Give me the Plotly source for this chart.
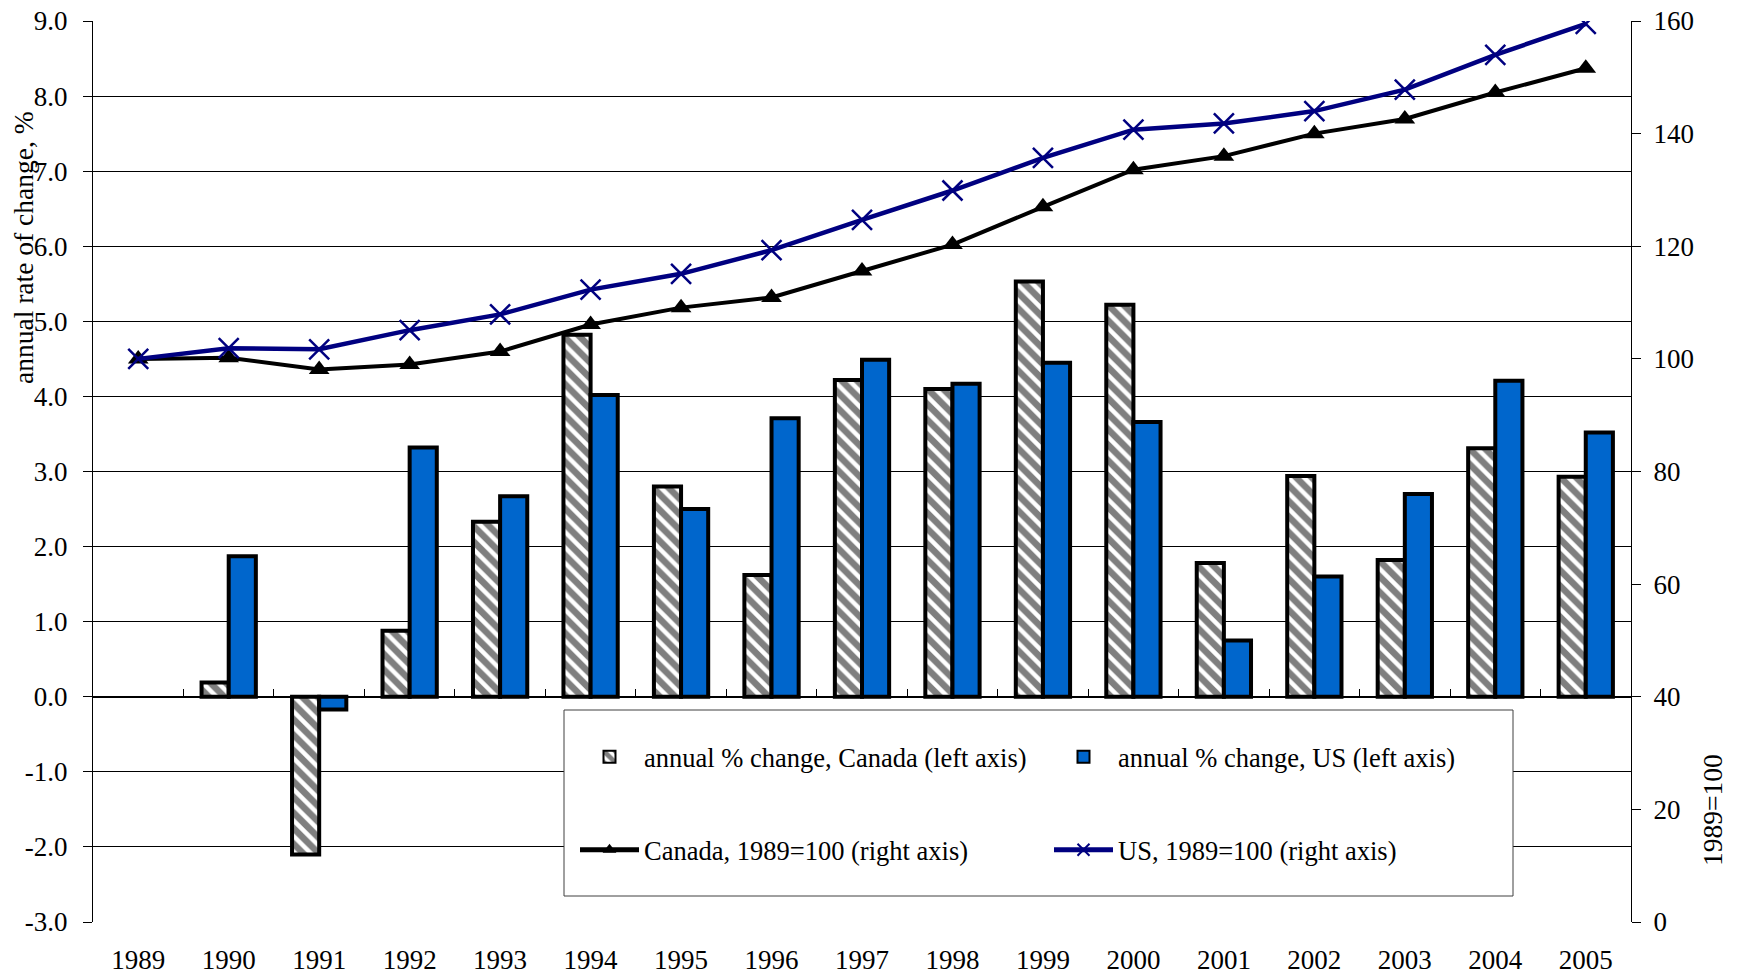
import plotly.graph_objects as go

years = [str(y) for y in range(1989, 2006)]
canada_pct = [None, 0.19, -2.10, 0.88, 2.33, 4.82, 2.80, 1.62, 4.22, 4.10, 5.53, 5.22, 1.78, 2.94, 1.82, 3.31, 2.93]
us_pct = [None, 1.87, -0.17, 3.32, 2.67, 4.02, 2.50, 3.71, 4.49, 4.17, 4.45, 3.66, 0.75, 1.60, 2.70, 4.21, 3.52]
canada_idx = [100.0, 100.2, 98.1, 99.0, 101.3, 106.1, 109.1, 110.9, 115.6, 120.3, 127.0, 133.6, 136.0, 140.0, 142.6, 147.3, 151.6]
us_idx = [100.0, 101.9, 101.7, 105.1, 107.9, 112.3, 115.1, 119.3, 124.7, 129.9, 135.7, 140.7, 141.8, 144.0, 147.8, 154.0, 159.5]
left_ticks = [-3, -2, -1, 0, 1, 2, 3, 4, 5, 6, 7, 8, 9]
left_labels = ["%.1f" % v for v in left_ticks]  # plain hyphen minus, as in the original

FONT = "Liberation Serif, Times New Roman, serif"
W, H = 1738, 977
L, R, T, B = 93, 107, 21, 55
pw, ph = W - L - R, H - T - B


def px_x(x):
    return (x - L) / pw


def px_y(y):
    return (H - B - y) / ph


fig = go.Figure()

fig.add_trace(go.Bar(
    x=years, y=canada_pct, name="annual % change, Canada (left axis)",
    marker=dict(color="white", line=dict(color="black", width=4),
                pattern=dict(shape="\\", fgcolor="black", bgcolor="white", size=11, solidity=0.6)),
    legend="legend",
))
fig.add_trace(go.Bar(
    x=years, y=us_pct, name="annual % change, US (left axis)",
    marker=dict(color="#0066CC", line=dict(color="black", width=4)),
    legend="legend",
))
fig.add_trace(go.Scatter(
    x=years, y=canada_idx, name="Canada, 1989=100 (right axis)", yaxis="y2",
    mode="lines+markers", line=dict(color="black", width=4),
    marker=dict(symbol="triangle-up", size=18, color="black"),
    legend="legend2",
))
fig.add_trace(go.Scatter(
    x=years, y=us_idx, name="US, 1989=100 (right axis)", yaxis="y2",
    mode="lines+markers", line=dict(color="#000080", width=4.5),
    marker=dict(symbol="x-thin", size=20, color="#000080", line=dict(width=2.5, color="#000080")),
    legend="legend2",
))
# invisible helper so the category-boundary tick axis at 0.0 gets drawn
fig.add_trace(go.Scatter(
    x=list(range(len(years))), y=us_idx, xaxis="x2", yaxis="y2", mode="lines",
    opacity=0, showlegend=False, hoverinfo="skip",
))

legend_style = dict(
    orientation="h", xanchor="left", yanchor="middle",
    font=dict(family=FONT, size=26.5, color="black"),
    bgcolor="rgba(0,0,0,0)", borderwidth=0,
    itemwidth=59, entrywidth=400, itemsizing="constant",
)

fig.update_layout(
    width=W, height=H,
    margin=dict(l=L, r=R, t=T, b=B, pad=0, autoexpand=False),
    paper_bgcolor="white", plot_bgcolor="white",
    font=dict(family=FONT, size=27, color="black"),
    barmode="group", bargap=0.4, bargroupgap=0,
    legend=dict(x=px_x(575), y=px_y(757), **legend_style),
    legend2=dict(x=px_x(575), y=px_y(850), **legend_style),
    xaxis=dict(type="category", range=[-0.5, 16.5], showgrid=False, showline=False,
               ticks="", ticklabelstandoff=19, tickfont=dict(size=27), automargin=False),
    xaxis2=dict(overlaying="x", anchor="free", position=0.25, range=[-0.5, 16.5],
                tickvals=[i + 0.5 for i in range(16)], ticks="inside", ticklen=8,
                tickcolor="black", showticklabels=False, showgrid=False,
                showline=True, linecolor="black", linewidth=1, zeroline=False,
                automargin=False),
    yaxis=dict(range=[-3, 9], tickvals=left_ticks, ticktext=left_labels, showgrid=True,
               gridcolor="black", gridwidth=1, zeroline=True, zerolinecolor="black",
               zerolinewidth=1, showline=True, linecolor="black", linewidth=1,
               ticks="outside", ticklen=9, tickcolor="black", ticklabelstandoff=10,
               tickfont=dict(size=27), automargin=False),
    yaxis2=dict(range=[0, 160], dtick=20, overlaying="y", side="right",
                showgrid=False, zeroline=False, showline=True, linecolor="black",
                linewidth=1, ticks="outside", ticklen=9, tickcolor="black",
                ticklabelstandoff=7, tickfont=dict(size=27), automargin=False),
    shapes=[dict(type="rect", xref="paper", yref="paper", layer="above",
                 x0=px_x(564), x1=px_x(1513), y0=px_y(896), y1=px_y(710),
                 fillcolor="white", line=dict(color="#404040", width=1))],
    annotations=[
        dict(text="annual rate of change, %", xref="paper", yref="paper",
             x=px_x(23), y=px_y(248), textangle=-90, showarrow=False,
             font=dict(size=27.5), xanchor="center", yanchor="middle"),
        dict(text="1989=100", xref="paper", yref="paper",
             x=px_x(1712), y=px_y(810), textangle=-90, showarrow=False,
             font=dict(size=27.5), xanchor="center", yanchor="middle"),
    ],
)

fig.write_html("out.html", config={"displayModeBar": False},
               post_script="document.body.style.margin='0';")
